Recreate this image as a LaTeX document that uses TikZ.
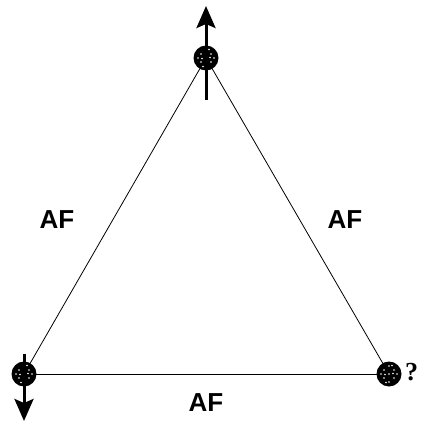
\documentclass[tikz,border=0pt]{standalone}
\usepackage{fontspec}
\setmainfont{Liberation Sans}
\newfontfamily\qfont{Liberation Serif}
\usetikzlibrary{arrows.meta}
\tikzset{
  atom/.style={circle, fill=black, minimum size=25pt, inner sep=0pt,
    path picture={
      \foreach \a/\b in {0/0, -5/4, 5/4, -5/-4, 5/-4, 0/8, 0/-8, -8/0, 8/0, -3/-8.5, 3/8.5, 4/0.5, -4/-0.5}
        \fill[white] ([shift={(\a pt,\b pt)}]path picture bounding box.center) circle (0.8pt);
    }},
  bond/.style={line width=0.8pt, black},
  spin/.style={line width=3pt, -{Stealth[length=22pt, width=19pt, inset=4pt]}},
  lab/.style={font=\fontsize{26}{26}\selectfont\bfseries, inner sep=0pt},
  qlab/.style={font=\qfont\fontsize{26}{26}\selectfont\bfseries, inner sep=0pt}
}
\begin{document}
\begin{tikzpicture}[x=1pt, y=1pt]
\useasboundingbox (0,0) rectangle (423,-422);
\coordinate (t) at (206,-58);
\coordinate (l) at (24,-374);
\coordinate (r) at (389,-374);
\draw[bond] (t) -- (l);
\draw[bond] (t) -- (r);
\draw[bond] (l) -- (r);
\coordinate (ts) at (206,-100);
\coordinate (te) at (206,-6);
\coordinate (ls) at (24,-354);
\coordinate (le) at (24,-421);
\draw[spin] (ts) -- (te);
\draw[spin] (ls) -- (le);
\node[atom] (T) at (t) {};
\node[atom] (L) at (l) {};
\node[atom] (R) at (r) {};
\draw[line width=3pt] (ts) -- (T.north);
\draw[line width=3pt] (ls) -- (L.south);
\node[lab] (a1) at (57,-220) {AF};
\node[lab] (a2) at (345,-220) {AF};
\node[lab] (a3) at (206,-403) {AF};
\node[qlab, anchor=west] (q) at (405,-372) {?};
\end{tikzpicture}
\end{document}
